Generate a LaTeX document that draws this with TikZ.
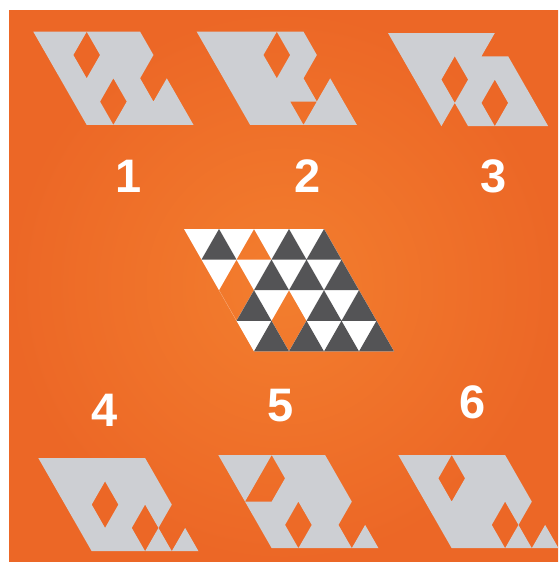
\documentclass[tikz,border=0pt]{standalone}
\usepackage{fontspec}
\setmainfont{Liberation Sans}
\definecolor{bgorange}{RGB}{243,126,46}
\definecolor{bgedge}{RGB}{236,103,38}
\definecolor{tilegray}{RGB}{205,207,211}
\definecolor{tiledark}{RGB}{84,84,86}
\tikzset{numlabel/.style={text=white, inner sep=0pt, font=\bfseries\fontsize{47}{47}\selectfont},
  answer/.style={x=13.35pt, y=-23.3pt},
  holey/.style={tilegray, even odd rule}}
% a hole of two triangles, centred on the lattice point (#1,#2)
\newcommand{\gem}[2]{(#1,#2-1) -- (#1+1,#2) -- (#1,#2+1) -- (#1-1,#2) -- cycle}

\begin{document}
\begin{tikzpicture}[x=1pt, y=-1pt]
\useasboundingbox (0,0) rectangle (558,562);
\fill[white] (0,0) rectangle (558,562);
\shade[inner color=bgorange, outer color=bgedge] (9,10) rectangle (558,562);

% the figure in the middle
\begin{scope}[shift={(184,229)}, x=17.5pt, y=-30.6pt]
\fill[white, even odd rule] (0,0) -- (8,0) -- (12,4) -- (4,4) -- cycle
  (3,1) -- (4,0) -- (5,1) -- cycle \gem{3}{2} \gem{6}{3};
\fill[tiledark] foreach \pos/\row in {1/0,5/0,7/0,4/1,6/1,8/1,3/2,7/2,9/2,4/3,6/3,8/3,10/3}
  {(\pos,\row+1) -- (\pos+1,\row) -- (\pos+2,\row+1) -- cycle};
\end{scope}

% answers 1 to 3
\begin{scope}[shift={(33.3,31.7)}, answer]
\fill[holey] (0,0) -- (8,0) -- (9,1) -- (8,2) -- (9,3) -- (10,2) -- (12,4) -- (4,4) -- cycle
  \gem{4}{1} \gem{6}{3};
\end{scope}
\begin{scope}[shift={(196.7,31.7)}, answer]
\fill[holey] (0,0) -- (8,0) -- (9,1) -- (8,2) -- (9,3) -- (10,2) -- (12,4) -- (4,4) -- cycle
  \gem{6}{1} (7,3) -- (9,3) -- (8,4) -- cycle;
\end{scope}
\begin{scope}[shift={(388,33)}, answer]
\fill[holey] (0,0) -- (8,0) -- (7,1) -- (9,1) -- (12,4) -- (6,4) -- (5,3) -- (4,4) -- cycle
  \gem{5}{2} \gem{8}{3};
\end{scope}

% answers 4 to 6
\begin{scope}[shift={(38.3,458)}, answer]
\fill[holey] (0,0) -- (8,0) -- (10,2) -- (9,3) -- (10,4) -- (11,3) -- (12,4) -- (4,4) -- cycle
  \gem{5}{2} \gem{8}{3};
\end{scope}
\begin{scope}[shift={(218.3,455)}, answer]
\fill[holey] (0,0) -- (8,0) -- (10,2) -- (9,3) -- (10,4) -- (11,3) -- (12,4) -- (4,4) -- cycle
  (4,0) -- (5,1) -- (4,2) -- (2,2) -- cycle \gem{6}{3};
\end{scope}
\begin{scope}[shift={(398.3,455)}, answer]
\fill[holey] (0,0) -- (8,0) -- (10,2) -- (9,3) -- (10,4) -- (11,3) -- (12,4) -- (4,4) -- cycle
  \gem{4}{1} \gem{8}{3};
\end{scope}

\node[numlabel] (one) at (129,176) {1};
\node[numlabel] (two) at (308,176) {2};
\node[numlabel] (three) at (494,176) {3};
\node[numlabel] (four) at (105,410) {4};
\node[numlabel] (five) at (281,406) {5};
\node[numlabel] (six) at (473,402) {6};
\end{tikzpicture}
\end{document}
